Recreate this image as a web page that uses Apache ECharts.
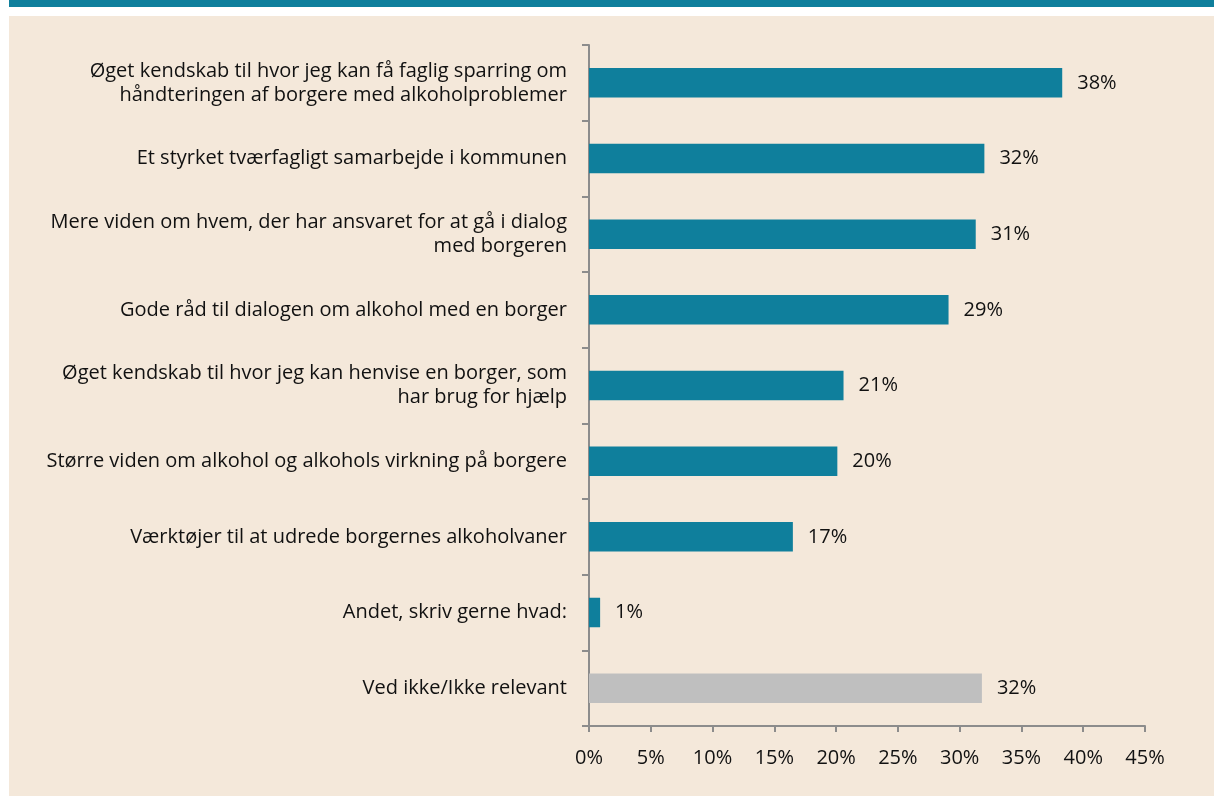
<!DOCTYPE html>
<html>
<head>
<meta charset="utf-8">
<script src="https://cdn.jsdelivr.net/npm/echarts@6/dist/echarts.min.js"></script>
<style>
  html, body { margin: 0; padding: 0; background: #fff; }
  #chart { width: 1214px; height: 796px; }
</style>
</head>
<body>
<div id="chart"></div>
<script>
// categories, top to bottom
const categories = [
  'Øget kendskab til hvor jeg kan få faglig sparring om\nhåndteringen af borgere med alkoholproblemer',
  'Et styrket tværfagligt samarbejde i kommunen',
  'Mere viden om hvem, der har ansvaret for at gå i dialog\nmed borgeren',
  'Gode råd til dialogen om alkohol med en borger',
  'Øget kendskab til hvor jeg kan henvise en borger, som\nhar brug for hjælp',
  'Større viden om alkohol og alkohols virkning på borgere',
  'Værktøjer til at udrede borgernes alkoholvaner',
  'Andet, skriv gerne hvad:',
  'Ved ikke/Ikke relevant'
];
const values = [38.3, 32.0, 31.3, 29.1, 20.6, 20.1, 16.5, 0.9, 31.8];
const labels = ['38%', '32%', '31%', '29%', '21%', '20%', '17%', '1%', '32%'];
const xTicks = [0, 5, 10, 15, 20, 25, 30, 35, 40, 45];

const BLUE = '#0f7f9c';
const GREY = '#bfbfbf';
const AXIS = '#8c8c8c';
const FONT = 'Open Sans';

const chart = echarts.init(document.getElementById('chart'));
chart.setOption({
  backgroundColor: '#ffffff',
  animation: false,
  textStyle: { fontFamily: FONT },
  graphic: [
    { type: 'rect', left: 9, top: 0, shape: { width: 1205, height: 7 }, style: { fill: BLUE }, z: -10 },
    { type: 'rect', left: 9, top: 16, shape: { width: 1205, height: 780 }, style: { fill: '#f4e8da' }, z: -10 }
  ],
  grid: { left: 589, right: 69, top: 45, bottom: 70 },
  xAxis: {
    type: 'value',
    min: 0,
    max: 45,
    interval: 5,
    splitLine: { show: false },
    axisLine: { show: true, lineStyle: { color: AXIS, width: 2 } },
    axisTick: { show: true, length: 6, lineStyle: { color: AXIS, width: 2 } },
    axisLabel: {
      color: '#111',
      fontSize: 20,
      margin: 22,
      formatter: v => xTicks.includes(v) ? v + '%' : ''
    }
  },
  yAxis: {
    type: 'category',
    inverse: true,
    data: categories,
    axisLine: { show: true, lineStyle: { color: AXIS, width: 2 } },
    axisTick: { show: true, length: 7, alignWithLabel: false, lineStyle: { color: AXIS, width: 2 } },
    axisLabel: {
      color: '#111',
      fontSize: 20,
      lineHeight: 24,
      margin: 22,
      align: 'right'
    }
  },
  series: [{
    type: 'bar',
    barWidth: '39%',
    data: values.map((v, i) => ({
      value: v,
      itemStyle: { color: i === values.length - 1 ? GREY : BLUE }
    })),
    label: {
      show: true,
      position: 'right',
      distance: 15,
      color: '#111',
      fontSize: 20,
      formatter: p => labels[p.dataIndex]
    }
  }]
});
</script>
</body>
</html>
